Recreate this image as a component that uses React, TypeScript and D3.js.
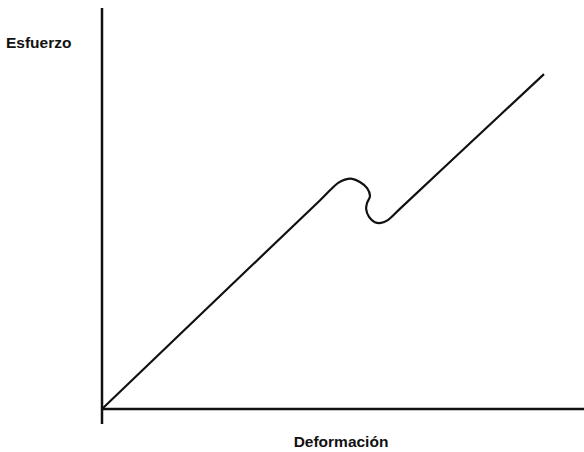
import React, { useEffect, useRef } from "react"
import * as d3 from "d3"

// curve (deformación, esfuerzo) in arbitrary units
const strain = [0, 2.5, 4.52, 4.9, 5.04, 5.19, 5.35, 5.5, 5.56, 5.5, 5.48, 5.54, 5.66, 5.79, 5.93, 6.18, 7.6, 9.17]
const stress = [0, 2.88, 5.2, 5.64, 5.72, 5.74, 5.66, 5.51, 5.31, 5.14, 4.99, 4.79, 4.66, 4.64, 4.71, 4.99, 6.59, 8.35]

const yLabel = "Esfuerzo"
const xLabel = "Deformación"

const W = 584
const H = 452

const App = () => {
    const ref = useRef<SVGSVGElement>(null)

    useEffect(() => {
        document.body.style.margin = "0"
        if (!ref.current) return
        const svg = d3.select(ref.current)
        svg.selectAll("*").remove()

        const x = d3.scaleLinear().domain([0, 10]).range([102, 584])
        const y = d3.scaleLinear().domain([0, 10]).range([409, 8])

        svg.append("rect").attr("width", W).attr("height", H).attr("fill", "#fff")

        // axes
        svg.append("line")
            .attr("x1", x(0)).attr("x2", x(0))
            .attr("y1", y(10)).attr("y2", y(0) + 15)
            .attr("stroke", "#111").attr("stroke-width", 2.5)
        svg.append("line")
            .attr("x1", x(0)).attr("x2", x(10))
            .attr("y1", y(0)).attr("y2", y(0))
            .attr("stroke", "#111").attr("stroke-width", 2.5)

        const pts: [number, number][] = strain.map((s, i) => [s, stress[i]])
        const line = d3.line<[number, number]>()
            .x((d) => x(d[0]))
            .y((d) => y(d[1]))
            .curve(d3.curveCatmullRom.alpha(0.5))

        svg.append("path")
            .attr("d", line(pts))
            .attr("fill", "none")
            .attr("stroke", "#111")
            .attr("stroke-width", 2.2)

        svg.append("text")
            .attr("x", 6).attr("y", 48)
            .attr("font-family", "Liberation Sans, Arial, sans-serif")
            .attr("font-weight", "bold")
            .attr("font-size", "15.5px")
            .attr("fill", "#111")
            .text(yLabel)

        svg.append("text")
            .attr("x", 341).attr("y", 447)
            .attr("text-anchor", "middle")
            .attr("font-family", "Liberation Sans, Arial, sans-serif")
            .attr("font-weight", "bold")
            .attr("font-size", "15.5px")
            .attr("fill", "#111")
            .text(xLabel)
    }, [])

    return (
        <svg
            ref={ref}
            width={W}
            height={H}
            style={{ display: "block", position: "absolute", left: 0, top: 0 }}
        />
    )
}

export default App
